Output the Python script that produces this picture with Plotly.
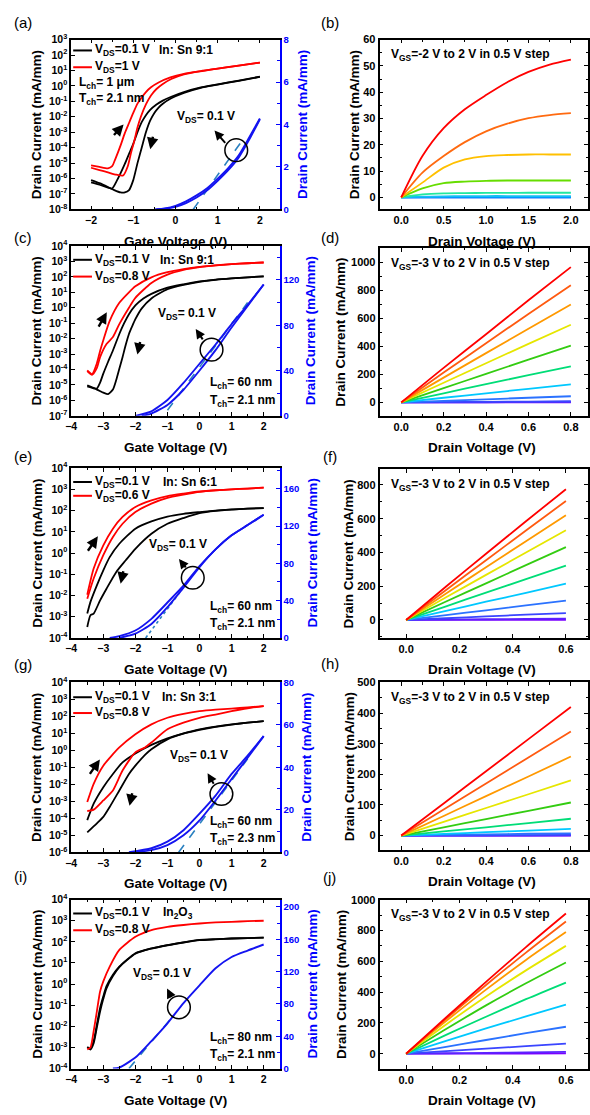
import plotly.graph_objects as go

W, H = 590, 1115
FONT = "Liberation Sans, Arial, Helvetica, sans-serif"
AXBLUE = "#0000FF"
CBLUE = "#1414F0"
DASHC = "#2A80C0"

# ================= DATA =================
# ---- (a) In:Sn 9:1, Lch 1um ----  (log10 of mA/mm for left axis)
a_blk1_vg = [-2.0, -1.8, -1.6, -1.5, -1.4, -1.3, -1.2, -1.1, -1.0, -0.9, -0.8, -0.7, -0.6, -0.45, -0.3, -0.1, 0.2, 0.6, 1.0, 1.5, 2.0]
a_blk1_log = [-6.25, -6.4, -6.58, -6.65, -6.2, -5.65, -5.05, -4.4, -3.75, -3.0, -2.35, -1.9, -1.55, -1.2, -0.95, -0.7, -0.4, -0.1, 0.1, 0.35, 0.6]
a_blk2_vg = [-2.0, -1.8, -1.6, -1.45, -1.3, -1.2, -1.1, -1.0, -0.9, -0.8, -0.7, -0.6, -0.5, -0.4, -0.3, -0.1, 0.2, 0.6, 1.0, 1.5, 2.0]
a_blk2_log = [-6.1, -6.3, -6.55, -6.75, -6.9, -6.9, -6.75, -6.1, -5.0, -4.0, -3.0, -2.25, -1.75, -1.4, -1.15, -0.8, -0.45, -0.12, 0.08, 0.33, 0.58]
a_red1_vg = [-2.0, -1.8, -1.6, -1.5, -1.43, -1.3, -1.2, -1.1, -1.0, -0.9, -0.8, -0.7, -0.58, -0.4, -0.12, 0.2, 0.67, 1.0, 1.45, 2.0]
a_red1_log = [-5.15, -5.25, -5.34, -5.2, -4.77, -3.85, -3.06, -2.4, -1.75, -1.15, -0.75, -0.4, -0.09, 0.22, 0.55, 0.78, 0.98, 1.12, 1.3, 1.51]
a_red2_vg = [-2.0, -1.8, -1.6, -1.4, -1.24, -1.13, -1.05, -0.97, -0.9, -0.82, -0.7, -0.58, -0.45, -0.3, -0.1, 0.2, 0.6, 1.0, 1.5, 2.0]
a_red2_log = [-5.3, -5.45, -5.6, -5.75, -5.8, -5.2, -4.3, -3.5, -2.7, -2.0, -1.2, -0.62, -0.2, 0.13, 0.45, 0.75, 0.96, 1.12, 1.32, 1.51]
a_blu1_vg = [-0.5, -0.25, 0.0, 0.25, 0.5, 0.75, 1.0, 1.25, 1.5, 1.75, 2.0]
a_blu1_lin = [0.0, 0.05, 0.17, 0.38, 0.66, 1.0, 1.45, 1.95, 2.55, 3.4, 4.28]
a_blu2_vg = [-0.45, -0.25, 0.0, 0.25, 0.5, 0.75, 1.0, 1.25, 1.5, 1.75, 2.0]
a_blu2_lin = [0.0, 0.03, 0.12, 0.3, 0.56, 0.9, 1.35, 1.85, 2.45, 3.3, 4.25]
a_fit_vg = [0.42, 1.6]
a_fit_lin = [0.0, 3.3]

# ---- (c) In:Sn 9:1, Lch 60nm ----
c_blk1_vg = [-3.5, -3.35, -3.2, -3.1, -3.0, -2.85, -2.7, -2.5, -2.35, -2.2, -2.0, -1.75, -1.5, -1.0, -0.5, 0.0, 0.5, 1.0, 1.5, 2.0]
c_blk1_log = [-5.02, -5.15, -5.23, -4.85, -4.27, -3.5, -2.77, -1.7, -1.0, -0.42, 0.15, 0.6, 0.9, 1.3, 1.52, 1.7, 1.82, 1.9, 1.97, 2.03]
c_blk2_vg = [-3.5, -3.2, -3.0, -2.85, -2.7, -2.6, -2.5, -2.4, -2.3, -2.2, -2.1, -2.0, -1.8, -1.5, -1.0, -0.5, 0.0, 0.5, 1.0, 1.5, 2.0]
c_blk2_log = [-5.1, -5.3, -5.5, -5.6, -5.3, -4.7, -3.95, -3.2, -2.4, -1.7, -1.2, -0.74, -0.04, 0.6, 1.2, 1.48, 1.68, 1.81, 1.9, 1.97, 2.03]
c_red1_vg = [-3.5, -3.35, -3.2, -3.1, -3.0, -2.8, -2.5, -2.2, -2.0, -1.5, -1.0, -0.5, 0.0, 0.5, 1.0, 1.5, 2.0]
c_red1_log = [-4.06, -4.3, -3.6, -2.8, -2.1, -0.85, 0.32, 1.0, 1.39, 1.97, 2.3, 2.5, 2.65, 2.75, 2.82, 2.88, 2.93]
c_red2_vg = [-3.5, -3.35, -3.2, -3.1, -2.9, -2.7, -2.5, -2.2, -2.0, -1.5, -1.0, -0.5, 0.0, 0.5, 1.0, 1.5, 2.0]
c_red2_log = [-4.1, -4.35, -3.9, -3.2, -2.35, -1.9, -1.06, 0.0, 0.64, 1.6, 2.14, 2.45, 2.63, 2.74, 2.82, 2.88, 2.93]
c_blu1_vg = [-2.0, -1.5, -1.0, -0.5, 0.0, 0.5, 1.0, 1.5, 2.0]
c_blu1_lin = [0, 4, 14, 29, 46, 63, 81, 98, 116]
c_blu2_vg = [-1.8, -1.5, -1.0, -0.5, 0.0, 0.5, 1.0, 1.5, 2.0]
c_blu2_lin = [0, 2, 9.6, 23, 40, 58, 78, 97, 116]
c_fit_vg = [-1.0, 1.5]
c_fit_lin = [5, 100]

# ---- (e) In:Sn 6:1 ----
e_blk1_vg = [-3.5, -3.4, -3.2, -3.0, -2.8, -2.5, -2.0, -1.5, -1.0, -0.5, 0.0, 0.5, 1.0, 1.5, 2.0]
e_blk1_log = [-2.85, -2.3, -1.52, -0.81, -0.19, 0.44, 1.15, 1.49, 1.72, 1.85, 1.93, 2.0, 2.06, 2.09, 2.12]
e_blk2_vg = [-3.5, -3.4, -3.3, -3.1, -2.9, -2.6, -2.3, -2.0, -1.5, -1.0, -0.5, 0.0, 0.5, 1.0, 1.5, 2.0]
e_blk2_log = [-3.48, -2.93, -2.85, -2.23, -1.68, -0.9, -0.34, 0.2, 0.91, 1.38, 1.65, 1.88, 1.99, 2.05, 2.09, 2.12]
e_red_vg = [-3.5, -3.3, -3.0, -2.7, -2.4, -2.0, -1.5, -1.0, -0.5, 0.0, 0.5, 1.0, 1.5, 2.0]
e_red1_log = [-1.96, -0.73, 0.36, 1.15, 1.7, 2.17, 2.48, 2.68, 2.8, 2.9, 2.96, 3.0, 3.04, 3.08]
e_red2_log = [-2.15, -1.2, -0.1, 0.76, 1.38, 1.93, 2.33, 2.6, 2.75, 2.88, 2.95, 3.0, 3.04, 3.08]
e_blu1_vg = [-2.8, -2.5, -2.0, -1.5, -1.0, -0.5, 0.0, 0.5, 1.0, 1.5, 2.0]
e_blu1_lin = [0, 2, 8, 20.5, 38, 56, 77, 95, 110, 121, 132]
e_blu2_vg = [-2.5, -2.0, -1.5, -1.0, -0.5, 0.0, 0.5, 1.0, 1.5, 2.0]
e_blu2_lin = [0, 4.6, 15, 33, 54, 76, 95, 110, 121, 132]
e_fit_vg = [-1.68, -0.2]
e_fit_lin = [0, 68]

# ---- (g) In:Sn 3:1 ----
g_blk1_vg = [-3.5, -3.3, -3.0, -2.7, -2.4, -2.0, -1.5, -1.0, -0.5, 0.0, 0.5, 1.0, 1.5, 2.0]
g_blk1_log = [-4.11, -3.14, -2.17, -1.39, -0.71, -0.18, 0.32, 0.71, 1.0, 1.24, 1.4, 1.53, 1.63, 1.72]
g_blk2_vg = [-3.5, -3.2, -3.0, -2.8, -2.5, -2.2, -2.0, -1.7, -1.5, -1.0, -0.5, 0.0, 0.5, 1.0, 1.5, 2.0]
g_blk2_log = [-4.83, -4.3, -3.92, -3.33, -2.36, -1.39, -0.9, -0.26, 0.07, 0.65, 0.98, 1.2, 1.38, 1.52, 1.63, 1.72]
g_red1_vg = [-3.5, -3.3, -3.0, -2.5, -2.0, -1.5, -1.0, -0.5, 0.0, 0.5, 1.0, 1.5, 2.0]
g_red1_log = [-3.04, -1.97, -0.9, 0.17, 0.95, 1.53, 1.92, 2.15, 2.31, 2.4, 2.46, 2.53, 2.6]
g_red2_vg = [-3.5, -3.3, -3.0, -2.7, -2.4, -2.0, -1.7, -1.5, -1.0, -0.5, 0.0, 0.5, 1.0, 1.5, 2.0]
g_red2_log = [-3.57, -3.49, -2.95, -2.36, -1.19, -0.12, 0.17, 0.46, 1.24, 1.63, 1.92, 2.11, 2.31, 2.48, 2.6]
g_blu1_vg = [-2.2, -1.5, -1.0, -0.5, 0.0, 0.5, 1.0, 1.5, 2.0]
g_blu1_lin = [0, 1.9, 5, 10.4, 18.2, 26.7, 36.9, 45.5, 54.7]
g_blu2_vg = [-2.0, -1.5, -1.0, -0.5, 0.0, 0.5, 1.0, 1.5, 2.0]
g_blu2_lin = [0, 1, 3.4, 8, 15, 24.4, 34.5, 44.5, 54.7]
g_fit_vg = [-0.65, 1.5]
g_fit_lin = [0, 44]

# ---- (i) In2O3 ----
i_blk_vg = [-3.5, -3.4, -3.3, -3.2, -3.1, -3.0, -2.9, -2.7, -2.5, -2.0, -1.5, -1.0, -0.5, 0.0, 0.5, 1.0, 1.5, 2.0]
i_blk1_log = [-2.98, -3.04, -2.7, -1.91, -1.13, -0.58, -0.1, 0.44, 0.83, 1.46, 1.69, 1.85, 1.98, 2.09, 2.13, 2.16, 2.18, 2.2]
i_blk2_log = [-3.0, -3.1, -2.8, -2.05, -1.3, -0.7, -0.2, 0.38, 0.8, 1.44, 1.68, 1.84, 1.97, 2.08, 2.12, 2.16, 2.18, 2.2]
i_red_vg = [-3.5, -3.4, -3.3, -3.2, -3.1, -3.0, -2.8, -2.5, -2.0, -1.5, -1.0, -0.5, 0.0, 0.5, 1.0, 1.5, 2.0]
i_red_log = [-3.09, -3.0, -2.23, -1.29, -0.35, 0.13, 0.83, 1.62, 2.24, 2.56, 2.71, 2.8, 2.87, 2.92, 2.95, 2.98, 3.0]
i_blu_vg = [-2.7, -2.5, -2.0, -1.5, -1.0, -0.5, 0.0, 0.5, 1.0, 1.5, 2.0]
i_blu_lin = [0, 1.2, 13.5, 34, 56, 81, 103, 124, 138, 146, 153.5]
i_fit_vg = [-2.2, -0.8]
i_fit_lin = [0, 66]

# ---- output curves ----
b_vd = [0, 0.25, 0.5, 0.75, 1.0, 1.25, 1.5, 1.75, 2.0]
b_vgs = [-2.0, -1.5, -1.0, -0.5, 0.0, 0.5, 1.0, 1.5, 2.0]
b_id = [
    [0, 0, 0, 0, 0, 0, 0, 0, 0],
    [0, 0.02, 0.03, 0.03, 0.03, 0.03, 0.03, 0.03, 0.03],
    [0, 0.08, 0.1, 0.1, 0.1, 0.1, 0.1, 0.1, 0.1],
    [0, 0.3, 0.4, 0.45, 0.5, 0.5, 0.5, 0.5, 0.5],
    [0, 1.1, 1.5, 1.6, 1.7, 1.7, 1.75, 1.75, 1.75],
    [0, 3.4, 5.4, 6.0, 6.3, 6.4, 6.4, 6.4, 6.4],
    [0, 5.6, 11.3, 14.4, 15.7, 16.1, 16.3, 16.3, 16.3],
    [0, 9.4, 15.7, 21.0, 25.1, 28.0, 30.1, 31.3, 32.0],
    [0, 15.7, 26.3, 33.5, 38.9, 43.8, 47.7, 50.5, 52.4],
]
d_vd = [0, 0.2, 0.4, 0.6, 0.8]
d_id = [
    [0, 0, 0, 0, 0],
    [0, 0.5, 1, 1.5, 2],
    [0, 2, 4, 6, 8],
    [0, 11, 22, 33, 44],
    [0, 33, 65, 97, 128],
    [0, 65, 130, 195, 258],
    [0, 102, 204, 305, 405],
    [0, 140, 280, 418, 555],
    [0, 177, 352, 526, 700],
    [0, 213, 423, 632, 838],
    [0, 247, 487, 730, 967],
]
f_vd = [0, 0.15, 0.3, 0.45, 0.6]
f_id = [
    [0, 0, 0, 0, 0],
    [0, 2, 4, 6, 8],
    [0, 10, 21, 31, 41],
    [0, 29, 57, 86, 114],
    [0, 54, 108, 161, 215],
    [0, 81, 162, 242, 322],
    [0, 109, 217, 325, 432],
    [0, 134, 267, 400, 532],
    [0, 157, 312, 467, 621],
    [0, 178, 354, 530, 705],
    [0, 198, 392, 585, 775],
]
h_vd = [0, 0.2, 0.4, 0.6, 0.8]
h_id = [
    [0, 0, 0, 0, 0],
    [0, 0, 0, 0, 0.5],
    [0, 0.5, 1, 1.5, 2],
    [0, 2, 4, 6, 7],
    [0, 5.5, 11, 16.5, 22],
    [0, 14, 27, 41, 55],
    [0, 27, 54, 81, 108],
    [0, 45, 90, 135, 180],
    [0, 64, 129, 193, 258],
    [0, 85, 170, 255, 340],
    [0, 105, 210, 315, 420],
]
j_vd = [0, 0.15, 0.3, 0.45, 0.6]
j_id = [
    [0, 0.5, 1, 1.5, 2],
    [0, 3, 6, 9, 12],
    [0, 17, 33, 49, 65],
    [0, 45, 89, 133, 175],
    [0, 83, 164, 242, 318],
    [0, 122, 240, 354, 462],
    [0, 160, 314, 457, 592],
    [0, 190, 372, 541, 700],
    [0, 212, 416, 609, 790],
    [0, 226, 446, 656, 858],
    [0, 235, 466, 692, 910],
]
colors9 = ["#0050FF", "#0070FF", "#0096FF", "#14BEF5", "#22E8A0", "#66DD00", "#FFC000", "#FF6A10", "#FF0000"]
colors11 = ["#7A00FF", "#5A22FF", "#3A45FF", "#2B72FF", "#00C8FF", "#00DD77", "#33CC11", "#E6E600", "#FF9900", "#FF5A10", "#FF0000"]

# ================= HELPERS =================
fig = go.Figure()
layout = {}
annotations = []
shapes = []


def px(x):
    return x / W


def py(y):
    return 1 - y / H


def akey(p, i):
    return f"{p}axis" + ("" if i == 1 else str(i))


def aref(p, i):
    return p + ("" if i == 1 else str(i))


def tickfont(size, color="black"):
    return dict(family=FONT, size=size, color=color, weight="bold")


def base_axis(**kw):
    d = dict(showgrid=False, zeroline=False, showline=True, linecolor="black", linewidth=1.6,
             ticks="inside", ticklen=4, tickwidth=1.3, tickcolor="black",
             tickfont=tickfont(10.5))
    d.update(kw)
    return d


def text(x, y, s, size=12, xanchor="left", angle=0, color="black", bold=True):
    annotations.append(dict(x=px(x), y=py(y), xref="paper", yref="paper", text=s, showarrow=False,
                            xanchor=xanchor, yanchor="middle", textangle=angle,
                            font=dict(family=FONT, size=size, color=color,
                                      weight="bold" if bold else "normal")))


def arrow(hx, hy, ax, ay, width=2.4, size=0.95):
    annotations.append(dict(x=px(hx), y=py(hy), xref="paper", yref="paper", text="", showarrow=True,
                            ax=ax, ay=ay, arrowhead=2, arrowsize=size, arrowwidth=width,
                            arrowcolor="black"))


def circle(cx, cy, r):
    shapes.append(dict(type="circle", xref="paper", yref="paper",
                       x0=px(cx - r), x1=px(cx + r), y0=py(cy + r), y1=py(cy - r),
                       line=dict(color="black", width=1.5)))


def seg(x0, x1, y, color):
    shapes.append(dict(type="line", xref="paper", yref="paper", x0=px(x0), x1=px(x1),
                       y0=py(y), y1=py(y), line=dict(color=color, width=2)))


state = {"x": 0, "y": 0}
LX0, LX1 = 66, 277
RX0, RX1 = 378, 589


def left_panel(top, bot, xr, yexp, yr2, dt2, logcurves, lincurves, fits, blue_title_x, fitdash="dash"):
    state["x"] += 1
    xi = state["x"]
    state["y"] += 1
    yl = state["y"]
    state["y"] += 1
    yr = state["y"]
    layout[akey("x", xi)] = base_axis(domain=[px(LX0), px(LX1)], anchor=aref("y", yl), range=xr,
                                     tickmode="linear", tick0=0, dtick=1, mirror="ticks",
                                     minor=dict(dtick=0.5, ticks="inside", ticklen=2.5, tickcolor="black"))
    ks = list(range(yexp[0], yexp[1] + 1))
    layout[akey("y", yl)] = base_axis(type="log", domain=[py(bot), py(top)], anchor=aref("x", xi),
                                     range=[yexp[0], yexp[1]], tickmode="array",
                                     tickvals=[10.0 ** k for k in ks],
                                     ticktext=[f"10<sup>{k}</sup>" for k in ks])
    layout[akey("y", yr)] = base_axis(overlaying=aref("y", yl), side="right", anchor=aref("x", xi),
                                     range=yr2, tickmode="linear", tick0=0, dtick=dt2,
                                     linecolor=AXBLUE, tickcolor=AXBLUE, tickfont=tickfont(9.5, AXBLUE),
                                     minor=dict(dtick=dt2 / 2, ticks="inside", ticklen=2.5, tickcolor=AXBLUE))
    for xs, logs, col in logcurves:
        fig.add_trace(go.Scatter(x=xs, y=[10.0 ** v for v in logs], mode="lines",
                                 line=dict(color=col, width=1.8, shape="spline", smoothing=0.6),
                                 xaxis=aref("x", xi), yaxis=aref("y", yl), showlegend=False,
                                 hoverinfo="skip"))
    for xs, ys in fits:
        fig.add_trace(go.Scatter(x=xs, y=ys, mode="lines", line=dict(color=DASHC, width=1.6, dash=fitdash),
                                 xaxis=aref("x", xi), yaxis=aref("y", yr), showlegend=False,
                                 hoverinfo="skip"))
    for xs, ys in lincurves:
        fig.add_trace(go.Scatter(x=xs, y=ys, mode="lines",
                                 line=dict(color=CBLUE, width=1.9, shape="spline", smoothing=0.6),
                                 xaxis=aref("x", xi), yaxis=aref("y", yr), showlegend=False,
                                 hoverinfo="skip"))
    # axis titles
    text((LX0 + LX1) / 2, bot + 32, "Gate Voltage (V)", size=13.5, xanchor="center")
    text(31, (top + bot) / 2, "Drain Current (mA/mm)", size=13.5, xanchor="center", angle=-90)
    text(blue_title_x, (top + bot) / 2, "Drain Current (mA/mm)", size=13.5, xanchor="center", angle=-90,
         color=AXBLUE)


def right_panel(top, bot, xr, dtx, yr, dty, vd, ids, cols, label, title_x):
    state["x"] += 1
    xi = state["x"]
    state["y"] += 1
    yi = state["y"]
    layout[akey("x", xi)] = base_axis(domain=[px(RX0), px(RX1)], anchor=aref("y", yi), range=xr,
                                     tickmode="linear", tick0=0, dtick=dtx, tickformat=".1f",
                                     mirror="ticks", tickfont=tickfont(11),
                                     minor=dict(dtick=dtx / 2, ticks="inside", ticklen=2.5, tickcolor="black"))
    layout[akey("y", yi)] = base_axis(domain=[py(bot), py(top)], anchor=aref("x", xi), range=yr,
                                     tickmode="linear", tick0=0, dtick=dty, mirror="ticks",
                                     tickfont=tickfont(11),
                                     minor=dict(dtick=dty / 2, ticks="inside", ticklen=2.5, tickcolor="black"))
    for ys, col in zip(ids, cols):
        fig.add_trace(go.Scatter(x=vd, y=ys, mode="lines",
                                 line=dict(color=col, width=1.8, shape="spline", smoothing=0.8),
                                 xaxis=aref("x", xi), yaxis=aref("y", yi), showlegend=False,
                                 hoverinfo="skip"))
    text((RX0 + RX1) / 2 - 2, bot + 32, "Drain Voltage (V)", size=13.5, xanchor="center")
    text(title_x, (top + bot) / 2, "Drain Current (mA/mm)", size=13.5, xanchor="center", angle=-90)
    text(388, top + 16, label, size=12)


# ================= PANELS =================
# (a)
left_panel(32, 204, [-2.47, 2.47], [-8, 3], [0, 8], 2,
           [(a_blk1_vg, a_blk1_log, "black"), (a_blk2_vg, a_blk2_log, "black"),
            (a_red1_vg, a_red1_log, "#FF0000"), (a_red2_vg, a_red2_log, "#FF0000")],
           [(a_blu1_vg, a_blu1_lin), (a_blu2_vg, a_blu2_lin)],
           [(a_fit_vg, a_fit_lin)], 300)
right_panel(32, 204, [-0.256, 2.202], 0.5, [-4.6, 60], 10, b_vd, b_id, colors9,
            "V<sub>GS</sub>=-2 V to 2 V in 0.5 V step", 353)
# (c)
left_panel(241, 413, [-4.0, 2.5], [-7, 4], [0, 150], 40,
           [(c_blk1_vg, c_blk1_log, "black"), (c_blk2_vg, c_blk2_log, "black"),
            (c_red1_vg, c_red1_log, "#FF0000"), (c_red2_vg, c_red2_log, "#FF0000")],
           [(c_blu1_vg, c_blu1_lin), (c_blu2_vg, c_blu2_lin)],
           [(c_fit_vg, c_fit_lin)], 309)
right_panel(243, 413, [-0.1025, 0.881], 0.2, [-96, 1104], 200, d_vd, d_id, colors11,
            "V<sub>GS</sub>=-3 V to 2 V in 0.5 V step", 339)
# (e)
left_panel(466, 638, [-4.0, 2.5], [-4, 4], [0, 182], 40,
           [(e_blk1_vg, e_blk1_log, "black"), (e_blk2_vg, e_blk2_log, "black"),
            (e_red_vg, e_red1_log, "#FF0000"), (e_red_vg, e_red2_log, "#FF0000")],
           [(e_blu1_vg, e_blu1_lin), (e_blu2_vg, e_blu2_lin)],
           [(e_fit_vg, e_fit_lin)], 310, fitdash="dot")
right_panel(467, 638, [-0.1, 0.683], 0.2, [-107, 894], 200, f_vd, f_id, colors11,
            "V<sub>GS</sub>=-3 V to 2 V in 0.5 V step", 347)
# (g)
left_panel(683, 855, [-4.0, 2.5], [-6, 4], [0, 80], 20,
           [(g_blk1_vg, g_blk1_log, "black"), (g_blk2_vg, g_blk2_log, "black"),
            (g_red1_vg, g_red1_log, "#FF0000"), (g_red2_vg, g_red2_log, "#FF0000")],
           [(g_blu1_vg, g_blu1_lin), (g_blu2_vg, g_blu2_lin)],
           [(g_fit_vg, g_fit_lin)], 304)
right_panel(683, 853, [-0.1025, 0.881], 0.2, [-48, 500], 100, h_vd, h_id, colors11,
            "V<sub>GS</sub>=-3 V to 2 V in 0.5 V step", 347)
# (i)
left_panel(903, 1074, [-4.0, 2.5], [-4, 4], [0, 209], 40,
           [(i_blk_vg, i_blk1_log, "black"), (i_blk_vg, i_blk2_log, "black"),
            (i_red_vg, i_red_log, "#FF0000")],
           [(i_blu_vg, i_blu_lin)],
           [(i_fit_vg, i_fit_lin)], 310)
right_panel(903, 1074, [-0.1, 0.683], 0.2, [-96, 1000], 200, j_vd, j_id, colors11,
            "V<sub>GS</sub>=-3 V to 2 V in 0.5 V step", 339)

# ================= ANNOTATIONS =================
# panel letters
for lab, x, y in [("(a)", 17, 15), ("(b)", 328, 15), ("(c)", 17, 232), ("(d)", 328, 232),
                  ("(e)", 17, 454), ("(f)", 328, 454), ("(g)", 17, 665), ("(h)", 328, 664),
                  ("(i)", 15, 880), ("(j)", 327, 881)]:
    text(x, y, lab, size=15, xanchor="center", bold=False)

# legends / labels on the left panels
legend_rows = [
    (43, 60, "V<sub>DS</sub>=0.1 V", "V<sub>DS</sub>=1 V", "In: Sn 9:1", 153),
    (255, 272, "V<sub>DS</sub>=0.1 V", "V<sub>DS</sub>=0.8 V", "In: Sn 9:1", 154),
    (480, 494, "V<sub>DS</sub>=0.1 V", "V<sub>DS</sub>=0.6 V", "In: Sn 6:1", 157),
    (698, 714, "V<sub>DS</sub>=0.1 V", "V<sub>DS</sub>=0.8 V", "In: Sn 3:1", 156),
    (917, 934, "V<sub>DS</sub>=0.1 V", "V<sub>DS</sub>=0.8 V", "In<sub>2</sub>O<sub>3</sub>", 157),
]
for yb, yr_, tb, tr, mat, mx in legend_rows:
    seg(68, 87, yb, "black")
    seg(68, 87, yr_, "#FF0000")
    text(88, yb, tb)
    text(88, yr_, tr)
    text(mx, yb, mat)

text(72, 76, "L<sub>ch</sub>= 1 μm")
text(72, 92, "T<sub>ch</sub>= 2.1 nm")
for yl_, yt_, lch, tch in [(380, 398, "60", "2.1"), (607, 624, "60", "2.1"),
                           (824, 842, "60", "2.3"), (1043, 1060, "80", "2.1")]:
    text(204, yl_, f"L<sub>ch</sub>= {lch} nm")
    text(204, yt_, f"T<sub>ch</sub>= {tch} nm")

# V_DS=0.1 V labels, circles and pointer arrows
for tx, ty, cx, cy, hx, hy, ax, ay in [
        (202, 110, 233, 144, 211, 124, 12, 14),
        (183, 310, 208, 346, 192, 325, 8, 12),
        (174, 544, 189, 577, 175, 558, 8, 10),
        (195, 758, 218, 796, 204, 775, 7, 12),
        (158, 978, 175, 1012, 163, 993, 5, 10)]:
    text(tx, ty, "V<sub>DS</sub>= 0.1 V", xanchor="center")
    circle(cx, cy, 11.5)
    arrow(hx, hy, ax, ay, width=2.0)

# sweep-direction arrows
for hx, hy, ax, ay in [(119, 118, -11, 12), (146, 143, 3, -14),
                       (102, 308, -9, 16), (133, 351, 3, -14),
                       (93, 535, -11, 16), (116, 583, 3, -14),
                       (95, 761, -11, 16), (125, 808, 3, -14)]:
    arrow(hx, hy, ax, ay)

layout.update(dict(width=W, height=H, margin=dict(l=0, r=0, t=0, b=0),
                   paper_bgcolor="white", plot_bgcolor="white", showlegend=False,
                   annotations=annotations, shapes=shapes,
                   font=dict(family=FONT, color="black")))
fig.update_layout(**layout)
fig.write_html(
    "out.html",
    config={"displayModeBar": False},
    post_script=(
        "var gd=document.getElementById('{plot_id}');"
        "gd.style.position='fixed';gd.style.left='0px';gd.style.top='0px';"
        "document.body.style.margin='0';document.body.style.padding='0';"
        "document.body.style.overflow='hidden';"
        "document.documentElement.style.overflow='hidden';"
    ),
)
